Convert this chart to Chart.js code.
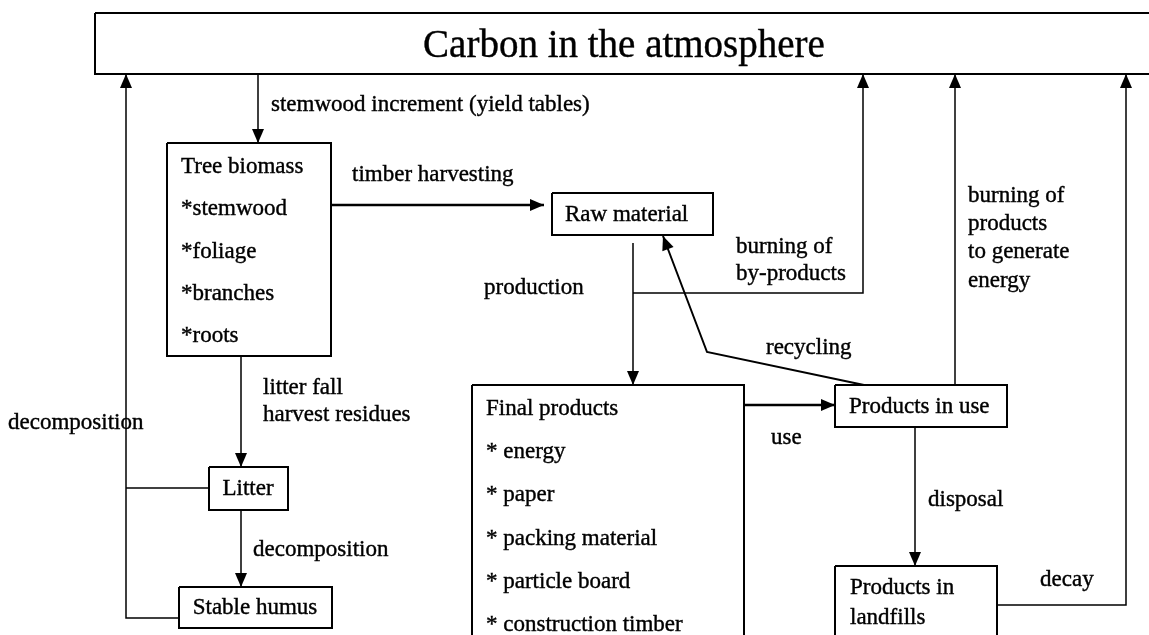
<!DOCTYPE html>
<html>
<head>
<meta charset="utf-8">
<script src="https://cdn.jsdelivr.net/npm/chart.js@4.4.1/dist/chart.umd.min.js"></script>
<style>
  html, body { margin: 0; padding: 0; background: #fff; }
  #wrap { width: 1149px; height: 635px; }
</style>
</head>
<body>
<div id="wrap"><canvas id="diagram"></canvas></div>
<script>
// --- diagram content ---
const titleText = 'Carbon in the atmosphere';
const treeLines = ['Tree biomass', '*stemwood', '*foliage', '*branches', '*roots'];
const rawLines = ['Raw material'];
const finalLines = ['Final products', '* energy', '* paper', '* packing material', '* particle board', '* construction timber'];
const inUseLines = ['Products in use'];
const landfillLines = ['Products in', 'landfills'];
const litterLines = ['Litter'];
const humusLines = ['Stable humus'];

const flowLabels = [
  ['stemwood increment (yield tables)'],
  ['timber harvesting'],
  ['production'],
  ['burning of', 'by-products'],
  ['burning of', 'products', 'to generate', 'energy'],
  ['recycling'],
  ['use'],
  ['disposal'],
  ['decay'],
  ['litter fall', 'harvest residues'],
  ['decomposition'],
  ['decomposition']
];

// --- layout, in diagram units (x right, y down) ---
// [left, top, right, bottom]
const boxFrames = [
  [95, 13, 1160, 74],
  [167, 143, 331, 356],
  [552, 193, 713, 235],
  [472, 385, 744, 660],
  [835, 385, 1007, 427],
  [835, 566, 997, 660],
  [209, 467, 288, 510],
  [179, 587, 332, 628]
];
const boxTexts = [treeLines, rawLines, finalLines, inUseLines, landfillLines, litterLines, humusLines];
// [x, firstY, lineStep, align]
const boxTextPos = [
  [181, 167, 42.3, 'left'],
  [565, 215, 0, 'left'],
  [486, 409, 43.2, 'left'],
  [849, 407, 0, 'left'],
  [850, 588, 30, 'left'],
  [248, 489, 0, 'center'],
  [255, 608, 0, 'center']
];

// connectors: points, width, arrow at end
const flowPaths = [
  { pts: [[258, 74], [258, 143]], w: 1.5, arrow: true },
  { pts: [[331, 205], [544, 205]], w: 2.5, arrow: true },
  { pts: [[633, 243], [633, 385]], w: 1.5, arrow: true },
  { pts: [[633, 293], [863, 293], [863, 74]], w: 1.5, arrow: true },
  { pts: [[955, 385], [955, 74]], w: 1.5, arrow: true },
  { pts: [[864, 385], [707, 352], [663, 236]], w: 2, arrow: true },
  { pts: [[744, 405], [835, 405]], w: 2.5, arrow: true },
  { pts: [[915, 427], [915, 566]], w: 1.5, arrow: true },
  { pts: [[997, 605], [1126, 605], [1126, 74]], w: 1.5, arrow: true },
  { pts: [[241, 356], [241, 467]], w: 1.5, arrow: true },
  { pts: [[209, 488], [126, 488]], w: 1.5, arrow: false },
  { pts: [[179, 618], [126, 618], [126, 74]], w: 1.5, arrow: true },
  { pts: [[241, 510], [241, 587]], w: 1.5, arrow: true }
];
// [x, firstY, lineStep]
const flowLabelPos = [
  [271, 105, 0],
  [352, 175, 0],
  [484, 288, 0],
  [736, 247, 27],
  [968, 196, 28.2],
  [766, 348, 0],
  [771, 438, 0],
  [928, 500, 0],
  [1040, 580, 0],
  [263, 388, 27],
  [8, 423, 0],
  [253, 550, 0]
];

const FONT = '"Liberation Serif", "Times New Roman", serif';

const rectPoints = ([l, t, r, b]) => [
  { x: l, y: t }, { x: r, y: t }, { x: r, y: b }, { x: l, y: b }, { x: l, y: t }
];

const datasets = [];
boxFrames.forEach((f) => {
  datasets.push({
    data: rectPoints(f),
    showLine: true,
    borderColor: '#000',
    borderWidth: 2,
    borderJoinStyle: 'miter',
    pointRadius: 0,
    fill: false
  });
});
flowPaths.forEach((p) => {
  datasets.push({
    data: p.pts.map(([x, y]) => ({ x, y })),
    showLine: true,
    borderColor: '#000',
    borderWidth: p.w,
    borderJoinStyle: 'miter',
    pointRadius: 0,
    fill: false,
    arrow: p.arrow
  });
});

const arrowPlugin = {
  id: 'arrowHeads',
  afterDatasetsDraw(chart) {
    const ctx = chart.ctx;
    chart.data.datasets.forEach((ds, i) => {
      if (!ds.arrow) return;
      const pts = chart.getDatasetMeta(i).data;
      const tip = pts[pts.length - 1];
      const prev = pts[pts.length - 2];
      const a = Math.atan2(tip.y - prev.y, tip.x - prev.x);
      const len = 14, half = 6;
      ctx.save();
      ctx.fillStyle = '#000';
      ctx.beginPath();
      ctx.moveTo(tip.x, tip.y);
      ctx.lineTo(tip.x - len * Math.cos(a) + half * Math.sin(a), tip.y - len * Math.sin(a) - half * Math.cos(a));
      ctx.lineTo(tip.x - len * Math.cos(a) - half * Math.sin(a), tip.y - len * Math.sin(a) + half * Math.cos(a));
      ctx.closePath();
      ctx.fill();
      ctx.restore();
    });
  }
};

const textPlugin = {
  id: 'diagramText',
  afterDraw(chart) {
    const ctx = chart.ctx;
    const sx = (v) => chart.scales.x.getPixelForValue(v);
    const sy = (v) => chart.scales.y.getPixelForValue(v);
    const put = (s, x, y) => {
      ctx.fillText(s, x, y);
      ctx.strokeText(s, x, y);
    };
    ctx.save();
    ctx.fillStyle = '#000';
    ctx.strokeStyle = '#000';
    ctx.lineWidth = 0.4;

    // title, centred in the atmosphere box
    ctx.font = '39px ' + FONT;
    ctx.textAlign = 'center';
    ctx.textBaseline = 'alphabetic';
    put(titleText, sx(624), sy(57));

    ctx.font = '23px ' + FONT;
    ctx.textBaseline = 'middle';
    boxTexts.forEach((lines, i) => {
      const [x, y0, step, align] = boxTextPos[i];
      ctx.textAlign = align;
      lines.forEach((s, k) => put(s, sx(x), sy(y0 + k * step)));
    });
    ctx.textAlign = 'left';
    flowLabels.forEach((lines, i) => {
      const [x, y0, step] = flowLabelPos[i];
      lines.forEach((s, k) => put(s, sx(x), sy(y0 + k * step)));
    });
    ctx.restore();
  }
};

new Chart(document.getElementById('diagram'), {
  type: 'scatter',
  data: { datasets },
  options: {
    responsive: true,
    maintainAspectRatio: false,
    animation: false,
    events: [],
    layout: { padding: 0 },
    elements: { line: { tension: 0 } },
    scales: {
      x: { type: 'linear', min: 0, max: 1149, display: false },
      y: { type: 'linear', min: 0, max: 635, reverse: true, display: false }
    },
    plugins: {
      legend: { display: false },
      tooltip: { enabled: false }
    }
  },
  plugins: [arrowPlugin, textPlugin]
});
</script>
</body>
</html>
